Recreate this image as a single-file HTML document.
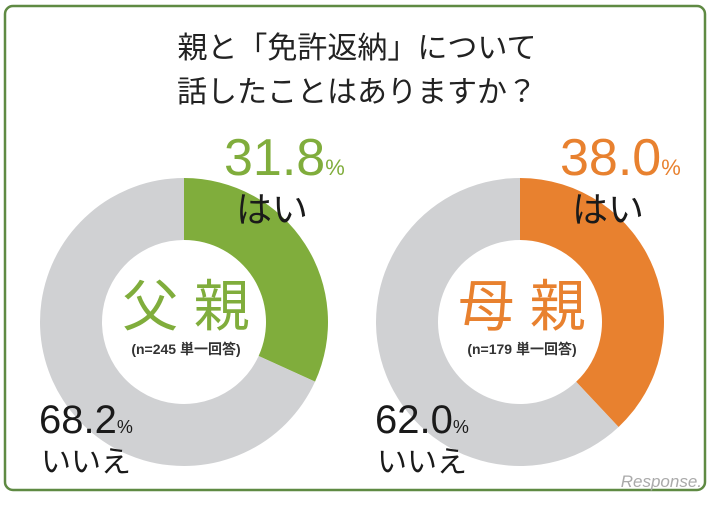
<!DOCTYPE html>
<html><head><meta charset="utf-8"><style>
body{margin:0;background:#fff;width:714px;height:504px;overflow:hidden}
text{font-family:"Liberation Sans","Noto Sans CJK JP",sans-serif}
</style></head><body>
<svg id="chart" width="714" height="504" viewBox="0 0 714 504" xmlns="http://www.w3.org/2000/svg">
<rect x="5" y="6" width="700" height="484" rx="8" fill="#fff" stroke="#5f8a43" stroke-width="2.5"/>
<text x="357" y="58" text-anchor="middle" font-size="30" fill="#222">親と「免許返納」について</text>
<text x="357" y="102" text-anchor="middle" font-size="30" fill="#222">話したことはありますか？</text>
<g id="donuts"></g>
<text x="702" y="487" text-anchor="end" font-size="17" fill="#aaa" font-style="italic">Response.</text>
</svg>
<script>
const groups = ["父親","母親"];
const yesValues = [31.8, 38.0];
const noValues = [68.2, 62.0];
const sampleSizes = [245, 179];
const colors = ["#80ad3c","#e8812f"];
const centers = [184, 520];
const cy = 322, R = 144, r = 82;
const ns = "http://www.w3.org/2000/svg";
const g = document.getElementById('donuts');
function mk(tag, attrs){const e=document.createElementNS(ns,tag);for(const k in attrs)e.setAttribute(k,attrs[k]);g.appendChild(e);return e;}
function pt(cx,rad,frac){const a=frac*2*Math.PI-Math.PI/2;return [cx+rad*Math.cos(a),cy+rad*Math.sin(a)];}
function arc(cx,f0,f1){const [x0,y0]=pt(cx,R,f0),[x1,y1]=pt(cx,R,f1),[x2,y2]=pt(cx,r,f1),[x3,y3]=pt(cx,r,f0);const l=(f1-f0)>0.5?1:0;
return `M${x0},${y0}A${R},${R} 0 ${l} 1 ${x1},${y1}L${x2},${y2}A${r},${r} 0 ${l} 0 ${x3},${y3}Z`;}
groups.forEach((name,i)=>{
  const cx=centers[i];
  const tot=yesValues[i]+noValues[i];
  const fy=yesValues[i]/tot;
  const s1=mk('path',{d:arc(cx,0,fy),fill:colors[i]});
  
  
  const s2=mk('path',{d:arc(cx,fy,1),fill:'#d0d1d3'});
  
  
  const t1=mk('text',{x:cx+2,y:cy+4,'text-anchor':'middle','font-size':56,fill:colors[i]});
  t1.textContent=name.split('').join(' ');
  
  
  const t2=mk('text',{x:cx+2,y:cy+32,'text-anchor':'middle','font-size':14,'font-weight':'bold',fill:'#333'});
  t2.textContent='(n='+sampleSizes[i]+' 単一回答)';
  
  
  const t3=mk('text',{x:cx+40,y:175,'font-size':52,fill:colors[i]});
  t3.innerHTML=yesValues[i].toFixed(1)+'<tspan font-size="22">%</tspan>';
  
  
  const t4=mk('text',{x:cx+52,y:222,'font-size':36,fill:'#1a1a1a'});
  t4.textContent='はい';
  
  
  const t5=mk('text',{x:cx-145,y:433,'font-size':40,fill:'#1a1a1a'});
  t5.innerHTML=noValues[i].toFixed(1)+'<tspan font-size="18">%</tspan>';
  
  
  const t6=mk('text',{x:cx-143,y:472,'font-size':30,fill:'#1a1a1a'});
  t6.textContent='いいえ';
  
  
});
</script>
</body></html>
